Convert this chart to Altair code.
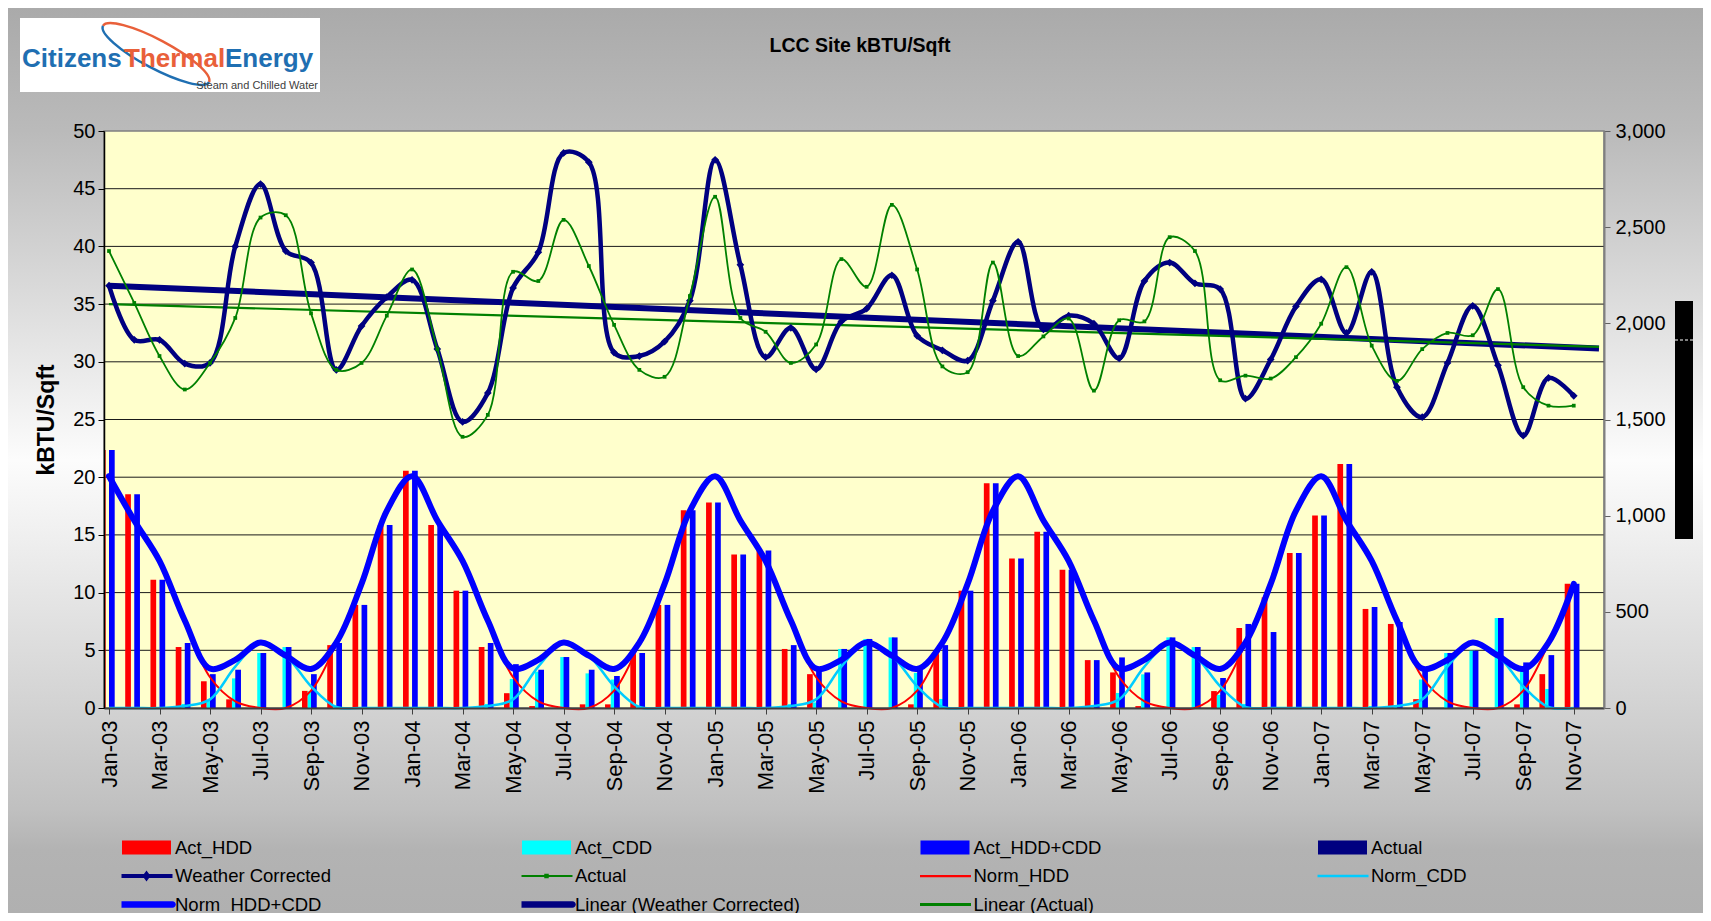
import altair as alt
import pandas as pd

FONT = "Liberation Sans"
W, H = 1500, 577

months = ["Jan-03", "Feb-03", "Mar-03", "Apr-03", "May-03", "Jun-03", "Jul-03", "Aug-03", "Sep-03", "Oct-03", "Nov-03", "Dec-03",
          "Jan-04", "Feb-04", "Mar-04", "Apr-04", "May-04", "Jun-04", "Jul-04", "Aug-04", "Sep-04", "Oct-04", "Nov-04", "Dec-04",
          "Jan-05", "Feb-05", "Mar-05", "Apr-05", "May-05", "Jun-05", "Jul-05", "Aug-05", "Sep-05", "Oct-05", "Nov-05", "Dec-05",
          "Jan-06", "Feb-06", "Mar-06", "Apr-06", "May-06", "Jun-06", "Jul-06", "Aug-06", "Sep-06", "Oct-06", "Nov-06", "Dec-06",
          "Jan-07", "Feb-07", "Mar-07", "Apr-07", "May-07", "Jun-07", "Jul-07", "Aug-07", "Sep-07", "Oct-07", "Nov-07"]

# degree days (right axis)
act_hdd = [1341, 1111, 667, 317, 139, 45, 0, 0, 89, 327,
           536, 950, 1233, 951, 610, 317, 77, 10, 0, 19,
           19, 280, 536, 1028, 1069, 798, 819, 307, 176, 0,
           0, 0, 19, 280, 610, 1169, 777, 916, 719, 249,
           185, 10, 0, 0, 88, 416, 575, 806, 1001, 1268,
           515, 437, 46, 0, 0, 0, 19, 176, 646]
act_cdd = [0, 0, 0, 21, 37, 154, 286, 317, 87, 11,
           0, 0, 0, 0, 0, 21, 151, 189, 265, 180,
           148, 6, 0, 0, 0, 0, 0, 20, 29, 307,
           359, 367, 183, 47, 0, 0, 0, 0, 0, 0,
           78, 175, 367, 317, 68, 21, 0, 0, 0, 0,
           10, 10, 148, 286, 298, 468, 218, 99, 0]
act_tot = [1341, 1111, 667, 338, 176, 199, 286, 317, 176, 338,
           536, 951, 1233, 951, 610, 338, 228, 199, 265, 199,
           167, 286, 536, 1028, 1069, 798, 819, 327, 205, 307,
           359, 367, 202, 327, 610, 1169, 777, 916, 719, 249,
           263, 185, 367, 317, 156, 437, 395, 806, 1001, 1268,
           525, 447, 194, 286, 298, 468, 237, 275, 646]
norm_hdd = [1205, 975, 765, 445, 160, 35, 0, 0, 90, 335, 645, 1025,
            1205, 975, 765, 445, 160, 35, 0, 0, 90, 335, 645, 1025,
            1205, 975, 765, 445, 160, 35, 0, 0, 90, 335, 645, 1025,
            1205, 975, 765, 445, 160, 35, 0, 0, 90, 335, 645, 1025,
            1205, 975, 765, 445, 160, 35, 0, 0, 90, 335, 645]
norm_cdd = [0, 0, 0, 10, 45, 215, 340, 272, 113, 5, 0, 0,
            0, 0, 0, 10, 45, 215, 340, 272, 113, 5, 0, 0,
            0, 0, 0, 10, 45, 215, 340, 272, 113, 5, 0, 0,
            0, 0, 0, 10, 45, 215, 340, 272, 113, 5, 0, 0,
            0, 0, 0, 10, 45, 215, 340, 272, 113, 5, 0]
norm_tot = [1205, 975, 765, 455, 205, 250, 340, 272, 203, 340, 645, 1025,
            1205, 975, 765, 455, 205, 250, 340, 272, 203, 340, 645, 1025,
            1205, 975, 765, 455, 205, 250, 340, 272, 203, 340, 645, 1025,
            1205, 975, 765, 455, 205, 250, 340, 272, 203, 340, 645, 1025,
            1205, 975, 765, 455, 205, 250, 340, 272, 203, 340, 645]

# kBTU/Sqft (left axis)
weather_corrected = [36.6, 31.9, 31.9, 29.85, 29.9, 40.0, 45.4, 39.6, 38.6, 29.3,
                     33.1, 35.6, 37.1, 31.1, 24.8, 27.3, 36.4, 39.5, 48.1, 47.3,
                     30.8, 30.5, 31.75, 35.3, 47.5, 38.4, 30.4, 32.95, 29.35, 33.5,
                     34.6, 37.5, 32.25, 31.0, 30.1, 35.3, 40.4, 32.8, 34.0, 33.3,
                     30.3, 37.0, 38.6, 36.8, 36.3, 26.8, 30.2, 34.8, 37.15, 32.5,
                     37.8, 27.8, 25.2, 29.9, 34.85, 29.7, 23.6, 28.6, 27.05]
actual = [39.6, 35.1, 30.5, 27.6, 29.9, 33.8, 42.5, 42.7, 34.2, 29.3,
          29.9, 34.0, 38.0, 31.1, 23.5, 25.4, 37.8, 37.0, 42.3, 38.3,
          33.2, 29.3, 28.7, 35.7, 44.3, 33.8, 32.6, 29.9, 31.5, 38.9,
          36.5, 43.6, 38.0, 29.6, 29.1, 38.6, 30.5, 32.2, 33.75, 27.5,
          33.6, 33.5, 40.8, 39.6, 28.4, 28.8, 28.55, 30.4, 33.3, 38.2,
          31.4, 28.35, 31.1, 32.5, 32.3, 36.3, 27.8, 26.2, 26.2]

trend_k = [0, 59]
trend_wc = [36.6, 31.15]
trend_act = [35.0, 31.3]

grid_dd = [300, 600, 900, 1200, 1500, 1800, 2100, 2400, 2700]
left_ticks = [0, 5, 10, 15, 20, 25, 30, 35, 40, 45, 50]
right_ticks = [0, 500, 1000, 1500, 2000, 2500, 3000]

df = pd.DataFrame({
    "k": list(range(len(months))), "month": months,
    "act_hdd": act_hdd, "act_cdd": act_cdd, "act_tot": act_tot,
    "norm_hdd": norm_hdd, "norm_cdd": norm_cdd, "norm_tot": norm_tot,
    "wc": weather_corrected, "act": actual,
})
tdf = pd.DataFrame({"k": trend_k, "t_wc": trend_wc, "t_act": trend_act})
gdf = pd.DataFrame({"g": grid_dd})
one = pd.DataFrame({"z": [0]})

label_expr = "[" + ",".join("'%s'" % m for m in months) + "][datum.value]"

xscale = alt.Scale(domain=[0, 59], nice=False, zero=False)
xaxis = alt.Axis(values=list(range(0, 59, 2)), labelExpr=label_expr, labelAngle=270,
                 labelFontSize=22, labelFont=FONT, labelColor="black", labelPadding=6,
                 tickSize=6, tickColor="#404040", domainColor="#404040", domainWidth=2,
                 grid=False, title=None, zindex=1, labelOverlap=False, labelFlush=False,
                 labelBound=False)
X = alt.X("k:Q", scale=xscale, axis=xaxis)

lscale = alt.Scale(domain=[0, 50], nice=False, zero=True)
laxis = alt.Axis(orient="left", values=left_ticks, labelFontSize=20, labelFont=FONT,
                 labelColor="black", tickSize=6, tickColor="black", domainColor="black",
                 domainWidth=1.5, labelPadding=3, grid=False, title="kBTU/Sqft",
                 titleFont=FONT, titleFontSize=23, titleFontWeight="bold", titleColor="black",
                 titleX=-58, titleY=288.5, titleAngle=270, titleBaseline="middle",
                 titleAlign="center", zindex=1)
rscale = alt.Scale(domain=[0, 3000], nice=False, zero=True)
raxis = alt.Axis(orient="right", values=right_ticks, format=",.0f", labelFontSize=20,
                 labelFont=FONT, labelColor="black", tickSize=6, tickColor="#606060",
                 domainColor="#808080", domainWidth=2, labelPadding=5, grid=False,
                 title=None, zindex=1)


def YL(f):
    return alt.Y(f + ":Q", scale=lscale, axis=laxis)


def YR(f):
    return alt.Y(f + ":Q", scale=rscale, axis=raxis)


# ---------- background ----------
bg = alt.Chart(one).mark_rect(fill={
    "gradient": "linear", "x1": 0, "y1": 0, "x2": 0, "y2": 1,
    "stops": [
        {"offset": 0, "color": "#aaaaaa"},
        {"offset": 0.135, "color": "#bababa"},
        {"offset": 0.50, "color": "#fcfcfc"},
        {"offset": 0.775, "color": "#d2d2d2"},
        {"offset": 0.885, "color": "#c0c0c0"},
        {"offset": 0.93, "color": "#b3b3b3"},
        {"offset": 1, "color": "#b0b0b0"},
    ]}).encode(x=alt.value(-96), x2=alt.value(1599), y=alt.value(-123), y2=alt.value(782))

plot_bg = alt.Chart(one).mark_rect(fill="#FFFFCC", stroke="#808080", strokeWidth=1.5).encode(
    x=alt.value(0), x2=alt.value(W), y=alt.value(0), y2=alt.value(H))

# ---------- right axis group: degree days ----------
grid = alt.Chart(gdf).mark_rule(color="#1a1a1a", strokeWidth=1).encode(y=YR("g"))
bar_w = 5.7
b_hdd = alt.Chart(df).mark_bar(color="#FF0000", size=bar_w, xOffset=-6.2, clip=True).encode(x=X, y=YR("act_hdd"))
b_cdd = alt.Chart(df).mark_bar(color="#00FFFF", size=bar_w, xOffset=-0.45, clip=True).encode(x=X, y=YR("act_cdd"))
b_tot = alt.Chart(df).mark_bar(color="#0000FF", size=bar_w, xOffset=2.85, clip=True).encode(x=X, y=YR("act_tot"))
l_nh = alt.Chart(df).mark_line(color="#FF0000", strokeWidth=2, interpolate="catmull-rom").encode(x=X, y=YR("norm_hdd"))
l_nc = alt.Chart(df).mark_line(color="#00CCFF", strokeWidth=2.5, interpolate="catmull-rom").encode(x=X, y=YR("norm_cdd"))
l_nt = alt.Chart(df).mark_line(color="#0000FF", strokeWidth=6, interpolate="catmull-rom",
                               strokeJoin="round", strokeCap="round").encode(x=X, y=YR("norm_tot"))
right_group = alt.layer(grid, b_hdd, b_cdd, b_tot, l_nh, l_nc, l_nt)

# ---------- left axis group: kBTU/Sqft ----------
t_wc = alt.Chart(tdf).mark_line(color="#000080", strokeWidth=6).encode(x=X, y=YL("t_wc"))
t_act = alt.Chart(tdf).mark_line(color="#008000", strokeWidth=2.2).encode(x=X, y=YL("t_act"))
wc_line = alt.Chart(df).mark_line(color="#000080", strokeWidth=4.5, interpolate="catmull-rom",
                                  strokeJoin="round").encode(x=X, y=YL("wc"))
wc_pts = alt.Chart(df).mark_point(shape="diamond", filled=True, size=60, color="#000080",
                                  opacity=1).encode(x=X, y=YL("wc"))
act_line = alt.Chart(df).mark_line(color="#008000", strokeWidth=1.8, interpolate="catmull-rom").encode(x=X, y=YL("act"))
act_pts = alt.Chart(df).mark_point(shape="square", filled=True, size=14, color="#008000",
                                   opacity=1).encode(x=X, y=YL("act"))
left_group = alt.layer(t_wc, t_act, wc_line, wc_pts, act_line, act_pts)

# ---------- decorations ----------
logo_box = alt.Chart(one).mark_rect(fill="white").encode(
    x=alt.value(-84), x2=alt.value(216), y=alt.value(-113), y2=alt.value(-39))
orbit_top = alt.Chart(one).mark_point(shape="M-1,0A1,0.24 0 0 1 1,0", size=14400, angle=28,
                                      filled=False, stroke="#e9603a", strokeWidth=2.5, opacity=1).encode(
    x=alt.value(52), y=alt.value(-77))
orbit_bot = alt.Chart(one).mark_point(shape="M1,0A1,0.24 0 0 1 -1,0", size=14400, angle=28,
                                      filled=False, stroke="#1f6fb2", strokeWidth=2.5, opacity=1).encode(
    x=alt.value(52), y=alt.value(-77))
logo_c = alt.Chart(one).mark_text(text="Citizens", font=FONT, fontSize=26, fontWeight="bold", color="#1f6fb2",
                                  align="left", baseline="alphabetic").encode(x=alt.value(-82), y=alt.value(-64))
logo_t = alt.Chart(one).mark_text(text="Thermal", font=FONT, fontSize=26, fontWeight="bold", color="#e9603a",
                                  align="left", baseline="alphabetic").encode(x=alt.value(20), y=alt.value(-64))
logo_e = alt.Chart(one).mark_text(text="Energy", font=FONT, fontSize=26, fontWeight="bold", color="#1f6fb2",
                                  align="left", baseline="alphabetic").encode(x=alt.value(121), y=alt.value(-64))
logo_s = alt.Chart(one).mark_text(text="Steam and Chilled Water", font=FONT, fontSize=11, color="#404040",
                                  align="right", baseline="alphabetic").encode(x=alt.value(214), y=alt.value(-42))
title = alt.Chart(one).mark_text(text="LCC Site kBTU/Sqft", font=FONT, fontSize=19.5, fontWeight="bold",
                                 color="black", align="center", baseline="middle").encode(
    x=alt.value(756), y=alt.value(-85))
black_bar = alt.Chart(one).mark_rect(color="black").encode(
    x=alt.value(1571), x2=alt.value(1589), y=alt.value(170), y2=alt.value(408))
bar_gap = alt.Chart(one).mark_rule(color="white", strokeWidth=1, strokeDash=[3, 2]).encode(
    x=alt.value(1571), x2=alt.value(1589), y=alt.value(209))

# ---------- legend (filled symbol paths, scaled by sqrt(symbolSize)/2 = 25 px) ----------
RECT = "M-0.98,-0.28H0.98V0.28H-0.98Z"


def bar_path(h):
    return "M-1.04,-%gH1.04V%gH-1.04Z" % (h, h)


def round_line(h):
    return ("M-1.04,-{h}H1.04A{h},{h} 0 0 1 1.04,{h}H-1.04A{h},{h} 0 0 1 -1.04,-{h}Z").format(h=h)


WC_SYM = bar_path(0.08) + "M0,-0.22L0.16,0L0,0.22L-0.16,0Z"
ACT_SYM = bar_path(0.04) + "M-0.09,-0.09H0.09V0.09H-0.09Z"

legend_cols = [
    (["Act_HDD", "Weather Corrected", "Norm_HDD+CDD"],
     ["#FF0000", "#000080", "#0000FF"], [RECT, WC_SYM, round_line(0.13)]),
    (["Act_CDD", "Actual", "Linear (Weather Corrected)"],
     ["#00FFFF", "#008000", "#000080"], [RECT, ACT_SYM, round_line(0.13)]),
    (["Act_HDD+CDD", "Norm_HDD", "Linear (Actual)"],
     ["#0000FF", "#FF0000", "#008000"], [RECT, bar_path(0.045), bar_path(0.06)]),
    (["Actual", "Norm_CDD"],
     ["#000080", "#00CCFF"], [RECT, bar_path(0.05)]),
]
legend_x = [17.5, 417.5, 816, 1213.5]
LEG_Y = 707.5

legend_layers = []
for i, (labs, fills, shapes) in enumerate(legend_cols):
    fld = "lab%d" % i
    ldf = pd.DataFrame({fld: labs})
    lg = alt.Legend(orient="none", legendX=legend_x[i], legendY=LEG_Y, title=None,
                    direction="vertical", symbolSize=2500, clipHeight=18, rowPadding=9.5,
                    labelOffset=3.5, labelFontSize=18.5, labelFont=FONT, labelColor="black",
                    padding=0, offset=0, labelLimit=500, symbolOpacity=1, symbolStrokeWidth=0)
    legend_layers.append(
        alt.Chart(ldf).transform_filter("false").mark_point(filled=True, opacity=1).encode(
            fill=alt.Fill(fld + ":N", scale=alt.Scale(domain=labs, range=fills), legend=lg),
            shape=alt.Shape(fld + ":N", scale=alt.Scale(domain=labs, range=shapes), legend=lg),
        )
    )

chart = alt.layer(
    bg, plot_bg, right_group, left_group,
    logo_box, orbit_top, orbit_bot, logo_c, logo_t, logo_e, logo_s, title, black_bar, bar_gap,
    *legend_layers
).resolve_scale(
    y="independent", fill="independent", shape="independent"
).properties(
    width=W, height=H,
    padding={"left": 96, "top": 123, "right": 99, "bottom": 205},
    autosize=alt.AutoSizeParams(type="none"),
).configure_view(strokeWidth=0).configure(font=FONT)

chart.save("out.html", embed_options={"renderer": "svg", "actions": False})
